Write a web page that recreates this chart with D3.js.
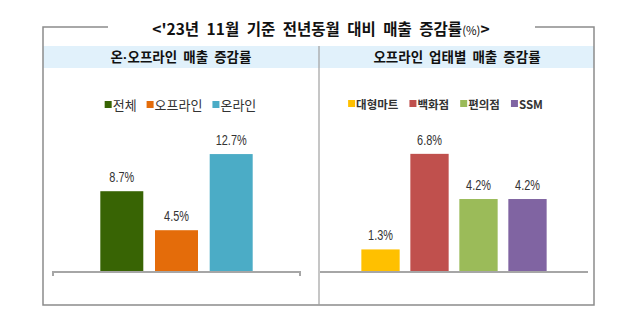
<!DOCTYPE html>
<html><head><meta charset="utf-8">
<script src="https://cdn.jsdelivr.net/npm/d3@7"></script>
<style>
body{margin:0;background:#fff;}
svg{display:block;}
</style></head>
<body>
<svg id="c" width="640" height="332"></svg>
<script>
const titleMain = "<'23년 11월 기준 전년동월 대비 매출 증감률";
const titleUnit = "(%)";
const titleEnd = ">";
const leftHeaderParts = ["온", "·", "오프라인 매출 증감률"];
const rightHeader = "오프라인 업태별 매출 증감률";

const leftCategories = ["전체", "오프라인", "온라인"];
const leftValues = [8.7, 4.5, 12.7];
const leftColors = ["#386404", "#E46C0A", "#4BACC6"];

const rightCategories = ["대형마트", "백화점", "편의점", "SSM"];
const rightValues = [1.3, 6.8, 4.2, 4.2];
const rightColors = ["#FFC000", "#C0504D", "#9BBB59", "#8064A2"];

const svg = d3.select("#c");
const KR = "'Noto Sans CJK KR','Noto Sans',sans-serif";
const NUM = "'Liberation Sans','Noto Sans',sans-serif";

// frame
const box = {l: 43, r: 594, t: 27, b: 305, mid: 319};
svg.append("rect").attr("x", box.l).attr("y", 46).attr("width", box.r - box.l).attr("height", 22)
  .attr("fill", "#E1F1FB");
const frame = svg.append("g").attr("stroke", "#8c8c8c").attr("stroke-width", 1.5).attr("fill", "none");
frame.append("path").attr("d", `M108,${box.t}H${box.l}V${box.b}H${box.r}V${box.t}H535`);
frame.append("line").attr("x1", box.mid).attr("x2", box.mid).attr("y1", 46).attr("y2", box.b)
  .attr("stroke", "#a0a0a0").attr("stroke-width", 1.2);

// title
const t = svg.append("text").attr("x", 321).attr("y", 35).attr("text-anchor", "middle")
  .attr("font-family", KR).attr("font-weight", "bold").attr("font-size", 15.5)
  .attr("word-spacing", 4).attr("fill", "#111");
t.append("tspan").text(titleMain);
t.append("tspan").attr("font-size", 11.5).attr("font-weight", "normal").text(titleUnit);
t.append("tspan").text(titleEnd);

// headers
const lh = svg.append("text").attr("x", 181).attr("y", 62).attr("text-anchor", "middle")
  .attr("font-family", KR).attr("font-weight", "bold").attr("font-size", 13.5).attr("word-spacing", 3)
  .attr("fill", "#111");
lh.append("tspan").text(leftHeaderParts[0]);
lh.append("tspan").attr("font-family", "'Liberation Sans',sans-serif").text(leftHeaderParts[1]);
lh.append("tspan").text(leftHeaderParts[2]);
svg.append("text").attr("x", 457).attr("y", 62).attr("text-anchor", "middle")
  .attr("font-family", KR).attr("font-weight", "bold").attr("font-size", 13.5).attr("word-spacing", 3)
  .attr("fill", "#111").text(rightHeader);

function panel(cfg) {
  const g = svg.append("g");
  const x = d3.scaleBand().domain(cfg.cats).range([cfg.x0, cfg.x1])
    .paddingInner(cfg.pi).paddingOuter(cfg.po);
  const y = d3.scaleLinear().domain([0, cfg.ymax]).range([272, cfg.ytop]);
  g.selectAll("rect.bar").data(cfg.vals).join("rect").attr("class", "bar")
    .attr("x", (d, i) => x(cfg.cats[i])).attr("width", x.bandwidth())
    .attr("y", d => y(d)).attr("height", d => y(0) - y(d))
    .attr("fill", (d, i) => cfg.colors[i]);
  g.selectAll("text.lbl").data(cfg.vals).join("text").attr("class", "lbl")
    .attr("transform", (d, i) => `translate(${x(cfg.cats[i]) + x.bandwidth() / 2},${y(d) - 9}) scale(0.78,1)`)
    .attr("text-anchor", "middle")
    .attr("font-family", NUM).attr("font-size", 14).attr("fill", "#333")
    .text(d => d.toFixed(1) + "%");
  const ax = g.append("g").attr("transform", `translate(0,${y(0)})`)
    .call(d3.axisBottom(x).tickSize(0).tickFormat(""));
  ax.select(".domain").attr("stroke", "#a6a6a6").attr("stroke-width", 2)
    .attr("d", cfg.endTicks ? `M${cfg.x0},4V0H${cfg.x1}V4` : `M${cfg.x0},0H${cfg.x1}`);
  // legend
  const lg = g.append("g").attr("font-family", KR).attr("font-size", cfg.lfs)
    .attr("font-weight", cfg.lfw).attr("fill", "#333");
  let cx = 0;
  cfg.cats.forEach((c, i) => {
    const it = lg.append("g").attr("transform", `translate(${cx},0)`);
    it.append("rect").attr("x", 0).attr("y", -4).attr("width", 7).attr("height", 7).attr("fill", cfg.colors[i]);
    const tx = it.append("text").attr("x", 8).attr("y", 4.5).text(c);
    const w = tx.node().getComputedTextLength();
    cx += 8 + w + cfg.lgap;
  });
  const total = cx - cfg.lgap;
  lg.attr("transform", `translate(${cfg.lcx - total / 2},${cfg.ly})`);
}

panel({cats: leftCategories, vals: leftValues, colors: leftColors,
  x0: 53, x1: 300, pi: 0.214, po: 0.865, ymax: 14, ytop: 142, endTicks: true,
  lcx: 180.5, ly: 105, lfs: 13, lfw: "normal", lgap: 10});
panel({cats: rightCategories, vals: rightValues, colors: rightColors,
  x0: 320, x1: 588, pi: 0.218, po: 0.844, ymax: 8, ytop: 133, endTicks: false,
  lcx: 445.5, ly: 104, lfs: 11.5, lfw: "bold", lgap: 11});
</script>
</body></html>
